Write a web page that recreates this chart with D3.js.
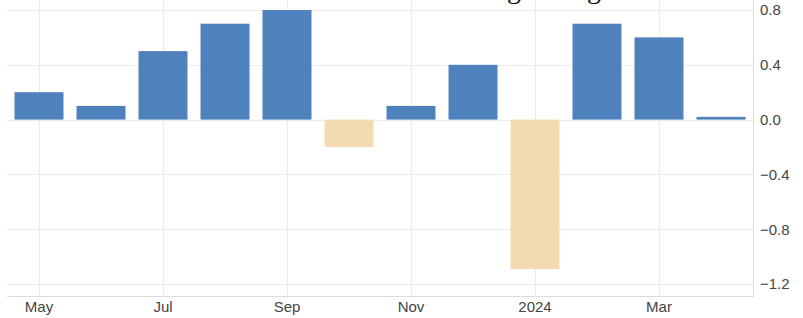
<!DOCTYPE html>
<html>
<head>
<meta charset="utf-8">
<script src="https://cdn.jsdelivr.net/npm/d3@7"></script>
<style>
body { margin: 0; background: #fff; }
</style>
</head>
<body>
<script>
const w = 803;
const h = 318;

const months = ["May", "Jun", "Jul", "Aug", "Sep", "Oct", "Nov", "Dec", "Jan", "Feb", "Mar", "Apr"];
const values = [0.2, 0.1, 0.5, 0.7, 0.8, -0.2, 0.1, 0.4, -1.09, 0.7, 0.6, 0.02];
const xTickLabels = {May: "May", Jul: "Jul", Sep: "Sep", Nov: "Nov", Jan: "2024", Mar: "Mar"};
const yTicks = [0.8, 0.4, 0.0, -0.4, -0.8, -1.2];

const svg = d3.select("body")
	.append("svg")
	.attr("width", w)
	.attr("height", h);

const xScale = d3.scaleBand()
	.domain(months)
	.range([8, 752])
	.paddingInner(0.21)
	.paddingOuter(0.105);

const yScale = d3.scaleLinear()
	.domain([-1.2, 0.8])
	.range([284, 10]);

// grid
svg.selectAll(".hgrid")
	.data(yTicks)
	.enter()
	.append("line")
	.attr("x1", 7)
	.attr("x2", 754)
	.attr("y1", (d) => Math.round(yScale(d)) + 0.5)
	.attr("y2", (d) => Math.round(yScale(d)) + 0.5)
	.attr("stroke", "#ebebeb")
	.attr("stroke-width", 1);

svg.selectAll(".vgrid")
	.data(Object.keys(xTickLabels))
	.enter()
	.append("line")
	.attr("x1", (d) => Math.round(xScale(d) + xScale.bandwidth() / 2) + 0.5)
	.attr("x2", (d) => Math.round(xScale(d) + xScale.bandwidth() / 2) + 0.5)
	.attr("y1", 0)
	.attr("y2", 296)
	.attr("stroke", "#ebebeb")
	.attr("stroke-width", 1);

// bars
svg.selectAll("rect")
	.data(values)
	.enter()
	.append("rect")
	.attr("x", (d, i) => xScale(months[i]))
	.attr("width", xScale.bandwidth())
	.attr("y", (d) => yScale(Math.max(0, d)))
	.attr("height", (d) => Math.abs(yScale(d) - yScale(0)))
	.attr("fill", (d) => {
		if (d < 0) {return "#f3dab0"} else {return "#4f81bd"}
	});

// axes lines
svg.append("line")
	.attr("x1", 7).attr("x2", 754)
	.attr("y1", 296.5).attr("y2", 296.5)
	.attr("stroke", "#dcdcdc");
svg.append("line")
	.attr("x1", 753.5).attr("x2", 753.5)
	.attr("y1", 0).attr("y2", 297)
	.attr("stroke", "#dcdcdc");

const yAxis = d3.axisRight(yScale)
	.tickValues(yTicks)
	.tickFormat(d3.format(".1f"))
	.tickSize(0)
	.tickPadding(6);

svg.append("g")
	.attr("transform", "translate(754,0)")
	.call(yAxis)
	.call((g) => g.select(".domain").remove())
	.selectAll("text")
	.attr("fill", "#444")
	.style("font-family", "Liberation Sans, Arial, sans-serif")
	.style("font-size", "15px");

const xAxis = d3.axisBottom(xScale)
	.tickValues(Object.keys(xTickLabels))
	.tickFormat((d) => xTickLabels[d])
	.tickSize(0)
	.tickPadding(4);

svg.append("g")
	.attr("transform", "translate(0,297)")
	.call(xAxis)
	.call((g) => g.select(".domain").remove())
	.selectAll("text")
	.attr("fill", "#444")
	.style("font-family", "Liberation Sans, Arial, sans-serif")
	.style("font-size", "15px");

// cropped title, only descenders show
const title = svg.append("text")
	.attr("y", -2)
	.attr("x", 0)
	.attr("fill", "#111")
	.style("font-family", "Liberation Serif, serif")
	.style("font-size", "28px")
	.text("United States Housing Change");
const gx = title.node().getStartPositionOfChar(20).x;
title.attr("x", 507 - gx);
</script>
</body>
</html>
